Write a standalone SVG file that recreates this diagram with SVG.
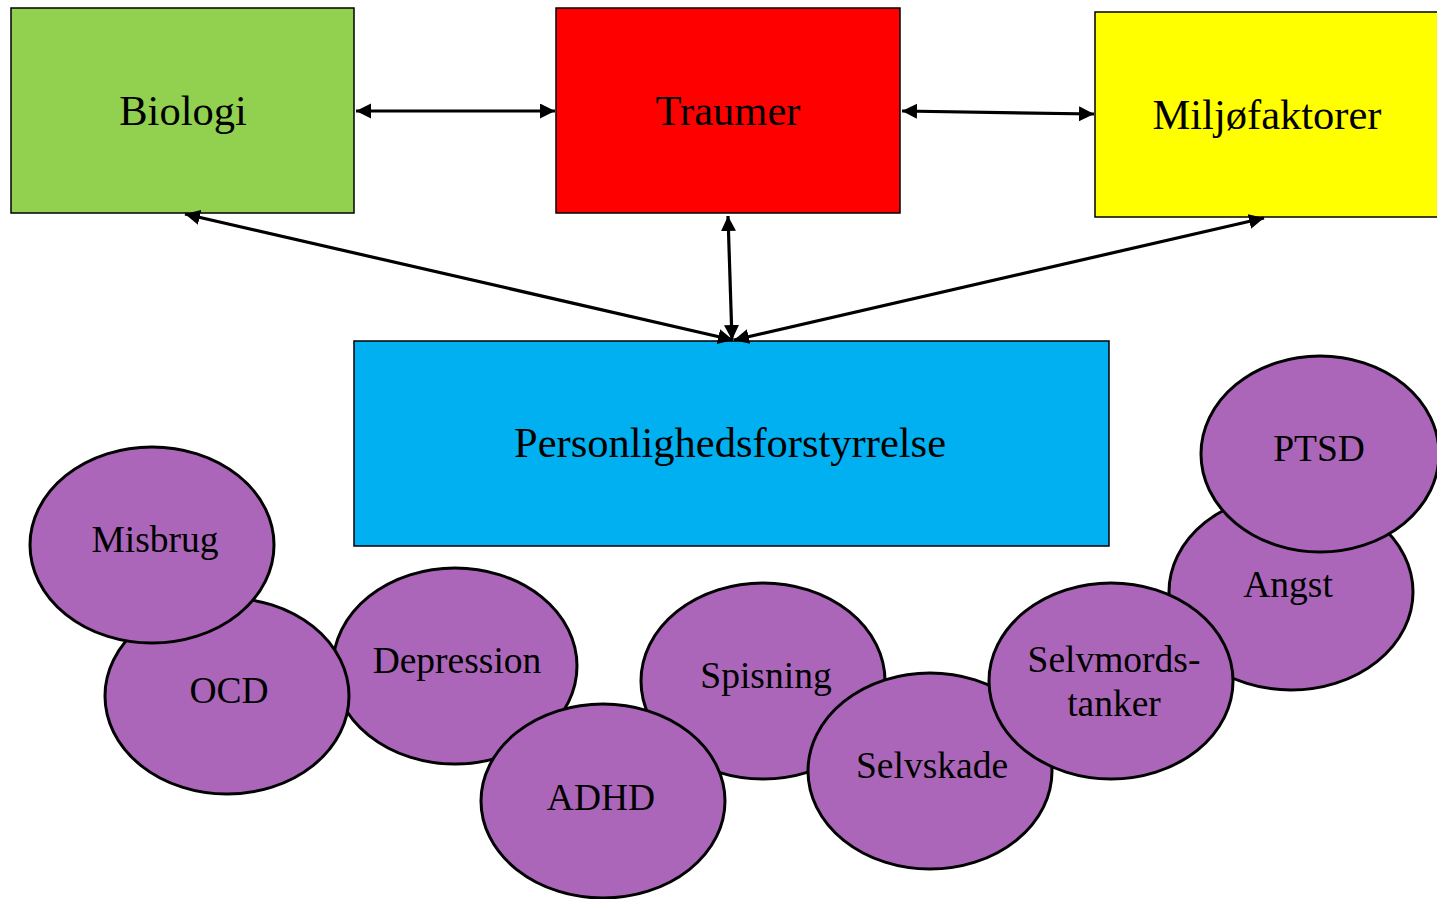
<svg xmlns="http://www.w3.org/2000/svg" width="1437" height="899" viewBox="0 0 1437 899">
<style>
.box{stroke:#000;stroke-width:1.5}
.ell{fill:#AB66BA;stroke:#000;stroke-width:3}
.bt{font-family:"Liberation Serif","Times New Roman",serif;font-size:42.5px;fill:#000;text-anchor:middle}
.et{font-family:"Liberation Serif","Times New Roman",serif;font-size:37.5px;fill:#000;text-anchor:middle}
.con{stroke:#000;stroke-width:3.2;fill:none;marker-start:url(#ah);marker-end:url(#ah)}
</style>
<defs>
<marker id="ah" markerUnits="userSpaceOnUse" markerWidth="16" markerHeight="16" refX="15" refY="7.5" orient="auto-start-reverse" viewBox="0 0 16 16">
<path d="M0,0 L15,7.5 L0,15 Z" fill="#000"/>
</marker>
</defs>
<rect width="1437" height="899" fill="#fff"/>
<g id="biologi"><rect class="box" x="11" y="8" width="343" height="205" fill="#92D050"/><text class="bt" x="183" y="125">Biologi</text></g>
<g id="traumer"><rect class="box" x="556" y="8" width="344" height="205" fill="#FF0000"/><text class="bt" x="728" y="125">Traumer</text></g>
<g id="miljo"><rect class="box" x="1095" y="12" width="346" height="205" fill="#FFFF00"/><text class="bt" x="1267" y="129">Miljøfaktorer</text></g>
<g id="personlighed"><rect class="box" x="354" y="341" width="755" height="205" fill="#00B0F0"/><text class="bt" x="730" y="457">Personlighedsforstyrrelse</text></g>
<g id="connectors">
<line class="con" x1="356" y1="111" x2="555" y2="111"/>
<line class="con" x1="902" y1="111" x2="1094" y2="114"/>
<line class="con" x1="185" y1="214" x2="733" y2="340"/>
<line class="con" x1="728" y1="216" x2="732" y2="340"/>
<line class="con" x1="1264" y1="218" x2="734" y2="340"/>
</g>
<g id="depression"><ellipse class="ell" cx="455" cy="666" rx="122" ry="98"/><text class="et" x="457" y="673">Depression</text></g>
<g id="ocd"><ellipse class="ell" cx="227" cy="696" rx="122" ry="98"/><text class="et" x="229" y="703">OCD</text></g>
<g id="misbrug"><ellipse class="ell" cx="152" cy="545" rx="122" ry="98"/><text class="et" x="155" y="552">Misbrug</text></g>
<g id="spisning"><ellipse class="ell" cx="763" cy="681" rx="122" ry="98"/><text class="et" x="766" y="688">Spisning</text></g>
<g id="adhd"><ellipse class="ell" cx="603" cy="801" rx="122" ry="97"/><text class="et" x="601" y="810">ADHD</text></g>
<g id="selvskade"><ellipse class="ell" cx="930" cy="771" rx="122" ry="98"/><text class="et" x="932" y="778">Selvskade</text></g>
<g id="angst"><ellipse class="ell" cx="1291" cy="592" rx="122" ry="98"/><text class="et" x="1288" y="597">Angst</text></g>
<g id="selvmord"><ellipse class="ell" cx="1111" cy="681" rx="122" ry="98"/><text class="et" x="1114" y="672">Selvmords-</text><text class="et" x="1114" y="716">tanker</text></g>
<g id="ptsd"><ellipse class="ell" cx="1320" cy="454" rx="119" ry="98"/><text class="et" x="1319" y="461">PTSD</text></g>
</svg>
